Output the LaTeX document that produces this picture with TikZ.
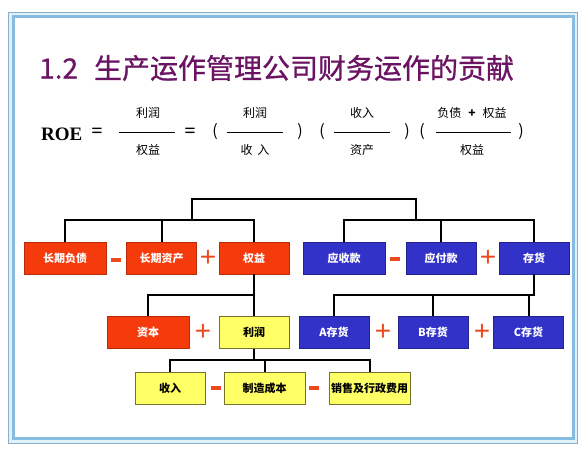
\documentclass[tikz,border=0pt]{standalone}
\usepackage{fontspec}
\setmainfont{Liberation Serif}
\newfontfamily\cjk{Noto Sans CJK SC}
\newfontfamily\titlefont{Noto Sans CJK SC}[FakeBold=0.8]
\newfontfamily\signfont{Liberation Sans}
\usepackage{xcolor}
\definecolor{frameout}{HTML}{8AAFCB}
\definecolor{framein}{HTML}{86BCE2}
\definecolor{framegap}{HTML}{E2F0FA}
\definecolor{titlepurple}{HTML}{6B1464}
\definecolor{boxred}{HTML}{F53B0C}
\definecolor{boxblue}{HTML}{3232C8}
\definecolor{boxyellow}{HTML}{FFFF66}
\definecolor{signred}{HTML}{EC4A1E}

\tikzset{
  box/.style={rectangle, minimum height=32pt, minimum width=70pt, inner sep=0pt,
    line width=0.6pt, font=\cjk\bfseries\fontsize{11}{13}\selectfont},
  redbox/.style={box, fill=boxred, draw=boxred!75!black, text=white},
  bluebox/.style={box, fill=boxblue, draw=boxblue!70!black, text=white},
  yellowbox/.style={box, fill=boxyellow, draw=boxyellow!45!black, text=black},
  wide/.style={minimum width=82pt},
  plussign/.style={inner sep=0pt, text=signred, font=\signfont\fontsize{28}{28}\selectfont},
  minussign/.style={rectangle, fill=signred, minimum width=10pt, minimum height=4pt, inner sep=0pt},
  conn/.style={line width=2pt, black},
  fractext/.style={font=\cjk\fontsize{12}{14}\selectfont},
  fracbar/.style={line width=0.6pt, black},
  paren/.style={font=\cjk\fontsize{16}{18}\selectfont},
  equals/.style={font=\bfseries\fontsize{20}{22}\selectfont}
}

\begin{document}
\begin{tikzpicture}[x=1pt, y=-1pt]
  \useasboundingbox (0,0) rectangle (588,448);
  % slide frame
  \draw[frameout, fill=framegap, line width=1pt] (8.5,12.5) rectangle (577,443);
  \draw[framein, fill=white, line width=3pt] (13.5,16.5) rectangle (573.5,438);
  \node[anchor=west, inner sep=0pt, text=titlepurple, font=\titlefont\fontsize{28}{32}\selectfont]
    (title) at (39,68) {1.2\hspace{16pt}生产运作管理公司财务运作的贡献};

  % ROE formula
  \node[anchor=west, inner sep=0pt, font=\bfseries\fontsize{19}{22}\selectfont] (roe) at (41,134) {ROE};
  \node[equals] (eq1) at (97,133) {=};
  \node[equals] (eq2) at (190,133) {=};
  \node[paren] (p1) at (215,132) {(};
  \node[paren] (p2) at (300,132) {)};
  \node[paren] (p3) at (322,132) {(};
  \node[paren] (p4) at (407,132) {)};
  \node[paren] (p5) at (422,132) {(};
  \node[paren] (p6) at (521,132) {)};
  \foreach \cx/\xa/\xb/\num/\den/\nm in {148/119/175/利润/权益/fa, 255/227/283/利润/收\hspace{5pt}入/fb,
      362/334/390/收入/资产/fc, 472/436/511/负债\hspace{7pt}\textbf{+}\hspace{7pt}权益/权益/fd} {
    \node[fractext] (\nm num) at (\cx,113) {\num};
    \node[fractext] (\nm den) at (\cx,150) {\den};
    \draw[fracbar] (\xa,132) -- (\xb,132);
  }

  % first row
  \node[redbox, wide] (ltdebt) at (65,258) {长期负债};
  \node[minussign] (m1) at (116,260) {};
  \node[redbox] (ltasset) at (161.5,258) {长期资产};
  \node[plussign] (s1) at (208,258) {+};
  \node[redbox] (equity) at (254,258) {权益};
  \node[bluebox, wide] (recv) at (344,258) {应收款};
  \node[minussign] (m2) at (395,259) {};
  \node[bluebox] (pay) at (441,258) {应付款};
  \node[plussign] (s2) at (488,258) {+};
  \node[bluebox] (stock) at (534,258) {存货};

  % second row
  \node[redbox, wide] (capital) at (148,332.5) {资本};
  \node[plussign] (s3) at (203,332) {+};
  \node[yellowbox] (profit) at (254,332.5) {利润};
  \node[bluebox] (stockA) at (334,332.5) {A存货};
  \node[plussign] (s4) at (383,332) {+};
  \node[bluebox] (stockB) at (433,332.5) {B存货};
  \node[plussign] (s5) at (482,332) {+};
  \node[bluebox] (stockC) at (528.5,332.5) {C存货};

  % third row
  \node[yellowbox] (revenue) at (170,388) {收入};
  \node[minussign] (m3) at (216,388) {};
  \node[yellowbox, minimum width=81pt] (mfgcost) at (264.5,388) {制造成本};
  \node[minussign] (m4) at (314,388) {};
  \node[yellowbox, minimum width=81pt] (sga) at (369.5,388) {销售及行政费用};

  % tree connectors
  \coordinate (lbus) at (192,220);
  \coordinate (rbus) at (416,220);
  \draw[conn] (lbus) -- ++(0,-21) -| (rbus);
  \draw[conn] (ltdebt.north) -- ++(0,-22) -| (equity.north);
  \draw[conn] (ltasset.north) -- ++(0,-22);
  \draw[conn] (recv.north) -- ++(0,-22) -| (stock.north);
  \draw[conn] (pay.north) -- ++(0,-22);
  \draw[conn] (equity.south) -- ++(0,21) -| (capital.north);
  \draw[conn] (equity.south) -- (profit.north);
  \draw[conn] (stock.south) -- ++(0,21) -| (stockA.north);
  \draw[conn] (stockB.north) -- ++(0,-21);
  \draw[conn] (stockC.north) -- ++(0,-21);
  \draw[conn] (profit.south) -- ++(0,11);
  \draw[conn] (revenue.north) -- ++(0,-12) -| (sga.north);
  \draw[conn] (mfgcost.north) -- ++(0,-12);
\end{tikzpicture}
\end{document}
